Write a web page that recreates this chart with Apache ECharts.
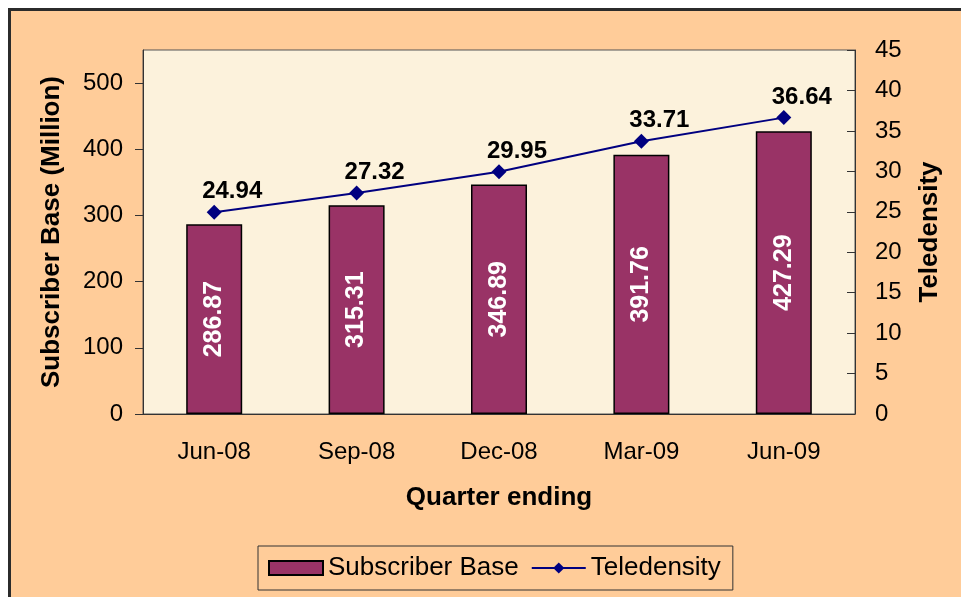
<!DOCTYPE html>
<html>
<head>
<meta charset="utf-8">
<script src="https://cdn.jsdelivr.net/npm/echarts@6/dist/echarts.min.js"></script>
<style>
  html, body { margin: 0; padding: 0; background: #fff; overflow: hidden; }
  #frame { position: absolute; left: 8px; top: 8px; width: 1000px; height: 1000px;
           background: #FFCC99; border: 3px solid #2b2b2b; }
  #main { position: absolute; left: 0; top: 0; width: 961px; height: 597px; }
</style>
</head>
<body>
<div id="frame"></div>
<div id="main"></div>
<script>
var quarters = ['Jun-08', 'Sep-08', 'Dec-08', 'Mar-09', 'Jun-09'];
var subscriberBase = [286.87, 315.31, 346.89, 391.76, 427.29];
var teledensity = [24.94, 27.32, 29.95, 33.71, 36.64];
var leftTicks = [0, 100, 200, 300, 400, 500];

var myChart = echarts.init(document.getElementById('main'));

var font = 'Arial, "Liberation Sans", sans-serif';

var option = {
    animation: false,
    backgroundColor: 'transparent',
    textStyle: { fontFamily: font },
    grid: {
        left: 143, right: 106, top: 50, bottom: 183,
        show: true,
        backgroundColor: '#FCF2DC',
        borderColor: '#555',
        borderWidth: 1
    },
    legend: {
        left: 258, top: 546,
        padding: [9, 12, 9, 10],
        itemWidth: 54, itemHeight: 14,
        itemGap: 12,
        borderColor: '#333', borderWidth: 1,
        textStyle: { fontSize: 26, color: '#000', fontFamily: font },
        data: [
            { name: 'Subscriber Base', icon: 'rect' },
            { name: 'Teledensity' }
        ]
    },
    xAxis: {
        type: 'category',
        data: quarters,
        name: 'Quarter ending',
        nameLocation: 'middle',
        nameGap: 71,
        nameTextStyle: { fontSize: 26, fontWeight: 'bold', color: '#000' },
        axisLine: { lineStyle: { color: '#333' } },
        axisTick: { length: 8, lineStyle: { color: '#333' } },
        axisLabel: { fontSize: 24, color: '#000', margin: 26 }
    },
    yAxis: [
        {
            type: 'value',
            min: 0, max: 550,
            name: 'Subscriber Base (Million)',
            nameLocation: 'middle',
            nameRotate: 90,
            nameGap: 78,
            nameTextStyle: { fontSize: 26, fontWeight: 'bold', color: '#000' },
            axisLine: { show: true, lineStyle: { color: '#333' } },
            axisTick: { show: true, length: 8, customValues: leftTicks, lineStyle: { color: '#333' } },
            axisLabel: { fontSize: 24, color: '#000', margin: 20, customValues: leftTicks },
            splitLine: { show: false }
        },
        {
            type: 'value',
            min: 0, max: 45, interval: 5,
            position: 'right',
            name: 'Teledensity',
            nameLocation: 'middle',
            nameRotate: 90,
            nameGap: 62,
            nameTextStyle: { fontSize: 26, fontWeight: 'bold', color: '#000' },
            axisLine: { show: true, lineStyle: { color: '#333' } },
            axisTick: { show: true, inside: true, length: 8, lineStyle: { color: '#333' } },
            axisLabel: { fontSize: 24, color: '#000', margin: 20 },
            splitLine: { show: false }
        }
    ],
    series: [
        {
            name: 'Subscriber Base',
            type: 'bar',
            data: subscriberBase,
            barWidth: 56,
            itemStyle: { color: '#993366', borderColor: '#000', borderWidth: 1.5 },
            label: {
                show: true,
                position: 'inside',
                rotate: 90,
                color: '#fff',
                fontSize: 25,
                fontWeight: 'bold'
            }
        },
        {
            name: 'Teledensity',
            type: 'line',
            yAxisIndex: 1,
            data: teledensity,
            symbol: 'diamond',
            symbolSize: 15,
            itemStyle: { color: '#000080' },
            lineStyle: { color: '#000080', width: 2 },
            label: {
                show: true,
                position: 'top',
                distance: 1,
                offset: [18, 0],
                color: '#000',
                fontSize: 24,
                fontWeight: 'bold'
            }
        }
    ]
};

myChart.setOption(option);
window.addEventListener('resize', myChart.resize);
</script>
</body>
</html>
